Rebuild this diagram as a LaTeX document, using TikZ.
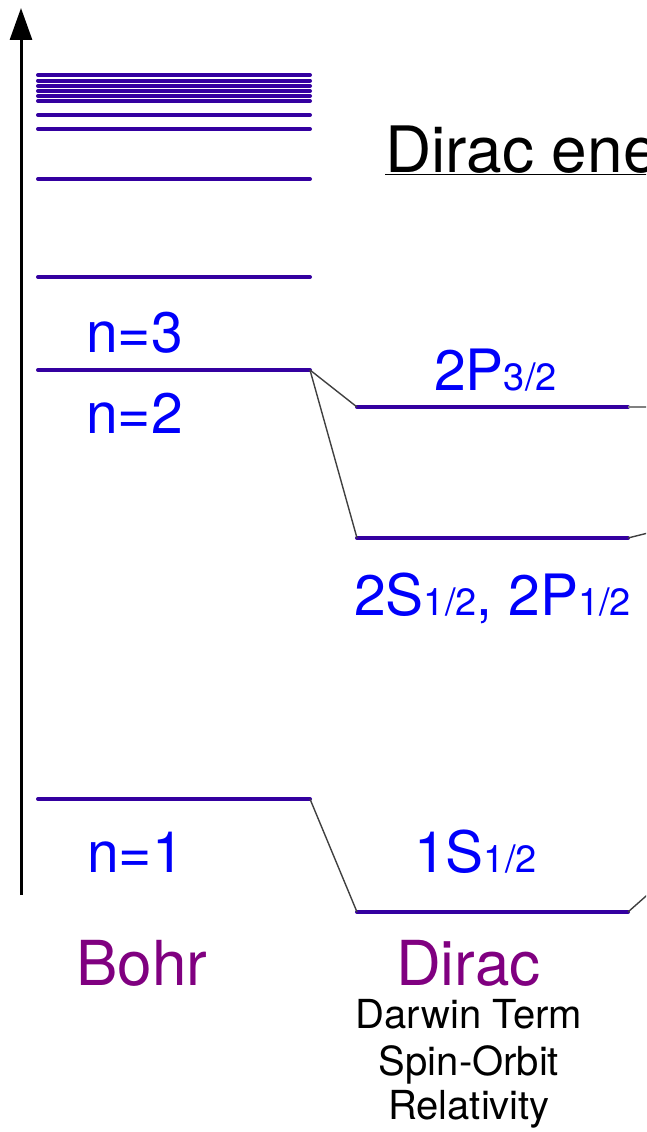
\documentclass[tikz,border=0pt]{standalone}
\usepackage{fontspec}
\setmainfont{TeX Gyre Heros}
\usetikzlibrary{arrows.meta}
\definecolor{levelblue}{RGB}{52,0,160}
\definecolor{lblblue}{RGB}{0,0,250}
\definecolor{modelpurple}{RGB}{128,0,128}
\newcommand{\lvsub}[1]{{\fontsize{38}{38}\selectfont #1}}
\tikzset{
  level/.style={levelblue,line width=4pt,line cap=round},
  link/.style={black!75,line width=1.4pt},
  lvlabel/.style={lblblue,inner sep=0pt,font=\fontsize{57}{60}\selectfont},
  model/.style={modelpurple,inner sep=0pt,font=\fontsize{62}{66}\selectfont},
  effect/.style={black,inner sep=0pt,font=\fontsize{40}{42}\selectfont}
}
\begin{document}
\begin{tikzpicture}[x=1pt,y=-1pt]
    \useasboundingbox (0,0) rectangle (646,1132);
    \clip (0,0) rectangle (646,1132);
    % energy axis
    \draw [line width=3pt,-{Triangle[length=32pt,width=22pt]}] (21,895) -- (21,8);
    % Bohr levels
    \foreach \y in {75,80.5,86,91,96,101,115,129,179,277}
        \draw [level] (38,\y) -- (310,\y);
    \draw [level] (38,370) -- (310,370) coordinate (btwo);
    \draw [level] (38,799) -- (310,799) coordinate (bone);
    % Dirac levels
    \draw [level] (357,407) coordinate (pl) -- (628,407) coordinate (pr);
    \draw [level] (357,538) coordinate (sl) -- (628,538) coordinate (sr);
    \draw [level] (357,912) coordinate (gl) -- (628,912) coordinate (gr);
    \coordinate (poff) at (680,407);
    \coordinate (soff) at (680,525);
    \coordinate (goff) at (680,866);
    \draw [link] (btwo) -- (pl);
    \draw [link] (btwo) -- (sl);
    \draw [link] (bone) -- (gl);
    \draw [link,black!50] (pr) -- (poff);
    \draw [link] (sr) -- (soff);
    \draw [link] (gr) -- (goff);
    % labels
    \node [lvlabel,anchor=base west] (nthree) at (86,352) {n=3};
    \node [lvlabel,anchor=base west] (ntwo) at (86,433) {n=2};
    \node [lvlabel,anchor=base west] (none) at (87,872) {n=1};
    \node [lvlabel,anchor=base west] (ptt) at (434,390) {2P\lvsub{3/2}};
    \node [lvlabel,anchor=base west] (sp) at (354,615) {2S\lvsub{1/2}, 2P\lvsub{1/2}};
    \node [lvlabel,anchor=base west] (sone) at (414,872) {1S\lvsub{1/2}};
    \node [model,anchor=base west] (bohr) at (76,985) {Bohr};
    \node [model,anchor=base west] (dirac) at (396,985) {Dirac};
    \node [effect,anchor=base] (darwin) at (469,1028) {Darwin Term};
    \node [effect,anchor=base] (spinorbit) at (469,1075) {Spin-Orbit};
    \node [effect,anchor=base] (relat) at (469,1119) {Relativity};
    \node [anchor=base west,inner sep=0pt,font=\fontsize{64}{68}\selectfont] (title) at (385,172) {\underline{Dirac ene}};
\end{tikzpicture}
\end{document}
